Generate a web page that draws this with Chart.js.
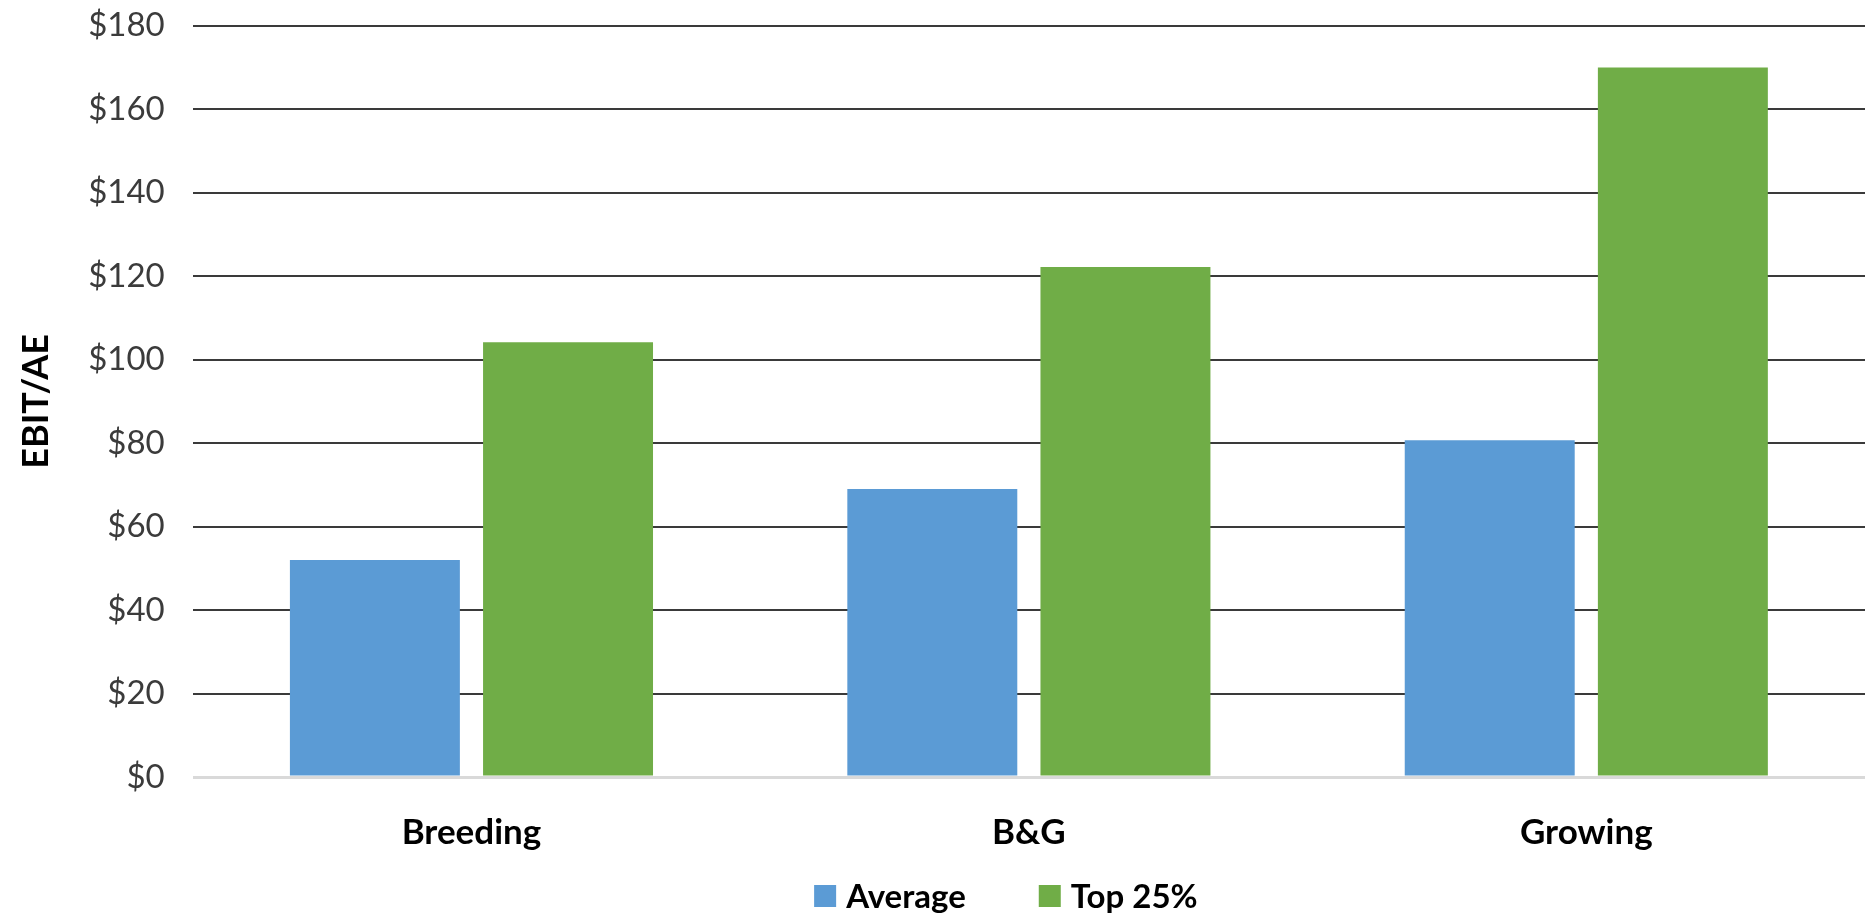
<!DOCTYPE html>
<html>
<head>
<meta charset="utf-8">
<title>EBIT/AE</title>
<script src="https://cdn.jsdelivr.net/npm/chart.js@4.4.1/dist/chart.umd.min.js"></script>
<style>
  html, body { margin: 0; padding: 0; background: #fff; }
  #wrap { width: 1870px; height: 913px; }
</style>
</head>
<body>
<div id="wrap"><canvas id="ebitChart" width="1870" height="913"></canvas></div>
<script>
// chart data
const categories = ['Breeding', 'B&G', 'Growing'];
const averageValues = [52, 69, 80.7];
const top25Values = [104.2, 122.2, 170];
const seriesLabels = ['Average', 'Top 25%'];
const yTicks = [0, 20, 40, 60, 80, 100, 120, 140, 160, 180];

const BLUE = '#5B9BD5';
const GREEN = '#70AD47';
const FONT = 'Lato, "Open Sans", sans-serif';

// legend row under the axis labels, drawn from the datasets
const legendRow = {
  id: 'legendRow',
  afterDraw(chart) {
    const ctx = chart.ctx;
    const box = 22, gap = 10, spacing = 73;
    ctx.save();
    ctx.font = 'bold 33px ' + FONT;
    ctx.textBaseline = 'middle';
    const items = chart.data.datasets.map(ds => ({
      text: ds.label,
      color: ds.backgroundColor,
      w: box + gap + ctx.measureText(ds.label).width
    }));
    const total = items.reduce((s, it) => s + it.w, 0) + spacing * (items.length - 1);
    const cx = (chart.chartArea.left + chart.chartArea.right) / 2 - 23;
    const cy = chart.height - 17;
    let x = cx - total / 2;
    items.forEach(it => {
      ctx.fillStyle = it.color;
      ctx.fillRect(x, cy - box / 2, box, box);
      ctx.fillStyle = '#000';
      ctx.fillText(it.text, x + box + gap, cy + 1);
      x += it.w + spacing;
    });
    ctx.restore();
  }
};

const ctx = document.getElementById('ebitChart').getContext('2d');
const ebitChart = new Chart(ctx, {
  type: 'bar',
  data: {
    labels: categories,
    datasets: [
      {
        label: seriesLabels[0],
        data: averageValues,
        backgroundColor: BLUE,
        categoryPercentage: 0.693,
        barPercentage: 0.88
      },
      {
        label: seriesLabels[1],
        data: top25Values,
        backgroundColor: GREEN,
        categoryPercentage: 0.693,
        barPercentage: 0.88
      }
    ]
  },
  options: {
    responsive: false,
    animation: false,
    layout: {
      padding: { left: 0, right: 5, top: 1, bottom: 24 }
    },
    plugins: {
      legend: { display: false },
      tooltip: { enabled: false }
    },
    scales: {
      x: {
        grid: { display: false, drawTicks: false },
        border: { display: false },
        ticks: {
          padding: 35,
          color: '#000',
          font: { family: FONT, size: 35, weight: 'bold' }
        }
      },
      y: {
        min: 0,
        max: 180,
        afterBuildTicks: (scale) => {
          scale.ticks = yTicks.map(v => ({ value: v }));
        },
        grid: {
          drawTicks: true,
          tickLength: 22,
          tickColor: 'rgba(0,0,0,0)',
          color: (c) => c.tick && c.tick.value === 0 ? '#d9d9d9' : '#3a3a3a',
          lineWidth: (c) => c.tick && c.tick.value === 0 ? 3 : 2
        },
        border: { display: false },
        ticks: {
          padding: 6,
          color: '#3b3b3b',
          font: { family: FONT, size: 33 },
          callback: (v) => '$' + v
        },
        title: {
          display: true,
          text: 'EBIT/AE',
          color: '#000',
          padding: { top: 15, bottom: 24 },
          font: { family: FONT, size: 36, weight: 'bold' }
        }
      }
    }
  },
  plugins: [legendRow]
});
</script>
</body>
</html>
